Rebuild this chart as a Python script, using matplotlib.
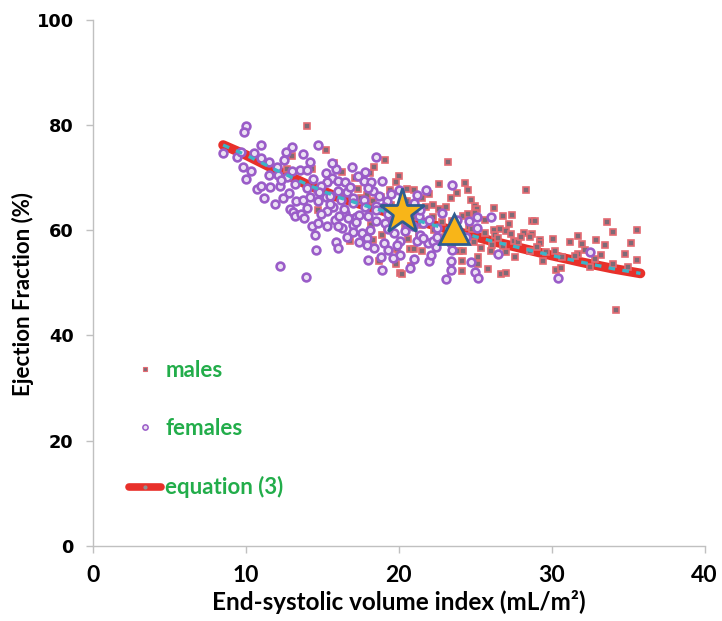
import matplotlib
matplotlib.use("Agg")
import matplotlib.pyplot as plt
from matplotlib.lines import Line2D

# ---------------- data ----------------
males_x = [14.0, 13.0, 14.3, 12.7, 14.7, 13.5, 15.2, 15.75, 16.25, 17.1, 19.1, 18.4, 20.0, 18.1,
           19.8, 17.3, 19.4, 20.5, 21.0, 18.8, 21.5, 17.9, 17.5, 16.8, 18.3, 18.7, 20.1, 19.8,
           20.0, 19.9, 20.7, 20.6, 20.8, 21.0, 18.9, 18.2, 17.0, 21.5, 23.2, 22.6, 24.3, 24.5,
           23.4, 24.7, 23.1, 25.0, 25.1, 22.6, 22.2, 24.2, 24.5, 26.8, 27.4, 28.3, 22.2, 25.0,
           28.7, 24.6, 26.2, 26.6, 27.0, 28.2, 28.7, 29.2, 27.5, 26.3, 26.1, 27.0, 23.9, 24.2,
           25.2, 27.6, 24.1, 25.2, 25.8, 24.1, 26.7, 27.0, 23.4, 28.9, 28.6, 29.2, 30.1, 31.7,
           32.0, 32.9, 33.6, 34.0, 35.6, 35.6, 33.2, 31.7, 29.4, 30.3, 30.6, 32.5, 34.2, 20.2,
           19.5, 20.5, 21.8, 22.8, 23.5, 24.8, 25.6, 26.5, 27.8, 29.0, 30.2, 31.5, 32.8, 34.0,
           35.0, 16.5, 17.5, 18.3,
           18.9, 19.6, 20.9, 21.5, 22.3, 23.0, 23.7, 24.9, 25.4, 26.0, 26.8, 27.3, 28.0, 28.6,
           29.6, 30.7, 31.2, 32.2, 33.5, 34.8, 35.2, 22.0, 23.8, 25.6, 26.2, 27.2, 19.2, 20.4,
           21.3, 22.4]
males_y = [79.8, 74.2, 71.6, 71.6, 63.9, 63.1, 75.2, 72.8, 71.0, 69.9, 73.3, 72.0, 70.3, 70.8,
           69.2, 67.9, 67.7, 67.8, 67.7, 66.3, 66.1, 66.7, 65.5, 58.0, 58.2, 54.1, 51.8, 53.6,
           55.3, 56.4, 56.4, 58.4, 53.2, 56.4, 59.1, 61.0, 62.3, 56.0, 73.0, 68.8, 69.0, 67.6,
           66.1, 65.7, 64.4, 64.6, 64.1, 64.1, 64.8, 62.7, 63.1, 62.7, 62.9, 67.7, 62.6, 63.2,
           61.7, 60.7, 60.1, 60.2, 59.9, 59.4, 59.3, 58.2, 57.9, 59.1, 57.2, 55.8, 56.0, 56.0,
           55.0, 55.0, 54.2, 53.6, 52.6, 52.2, 51.7, 51.8, 52.2, 61.8, 58.7, 57.6, 58.3, 59.0,
           57.4, 58.2, 61.5, 59.6, 60.1, 54.4, 55.3, 55.5, 54.1, 52.5, 52.8, 53.0, 44.9, 51.6,
           64.8, 65.5, 64.5, 61.5, 61.8, 60.3, 59.5, 58.5, 57.8, 56.8, 56.0, 55.2, 54.5, 53.5,
           53.0, 67.0, 66.2, 65.5,
           64.2, 62.4, 62.6, 61.0, 60.0, 58.8, 58.5, 57.8, 56.6, 56.0, 57.0, 59.3, 58.7, 56.1,
           55.9, 55.0, 57.8, 56.3, 57.2, 55.4, 57.5, 66.8, 67.1, 62.0, 64.2, 61.1, 60.6, 60.8,
           58.9, 57.5]

females_x = [9.98, 9.9, 10.96, 8.5, 13.0, 12.6, 13.7, 14.7, 9.4, 9.65, 12.5, 11.5, 9.8, 10.3,
             10.0, 13.5, 13.0, 14.0, 14.4, 12.7, 10.7, 10.96, 11.6, 12.2, 12.8, 11.9, 13.3, 13.7,
             14.2, 12.9, 13.1, 13.2, 13.6, 14.0, 14.7, 14.7, 12.1, 12.2, 13.9, 14.5, 14.6, 14.3,
             14.7, 18.5, 15.9, 15.2, 15.6, 16.0, 16.5, 15.3, 14.9, 17.7, 18.2, 18.9, 16.0, 16.6,
             17.0, 18.3, 20.0, 21.2, 21.8, 17.7, 15.7, 15.2, 16.5, 17.2, 18.5, 19.2, 21.3, 15.3,
             15.8, 16.25, 15.9, 17.0, 17.0, 17.6, 18.1, 17.9, 17.9, 18.5, 19.0, 19.3, 18.8, 18.9,
             18.0, 19.7, 20.1, 19.9, 20.1, 20.7, 21.2, 21.4, 21.9, 15.3, 16.1, 16.7, 17.4, 22.0,
             21.6, 19.1, 20.5, 23.5, 26.0, 25.1, 25.1, 23.4, 23.5, 22.1, 23.4, 24.7, 23.4, 23.1,
             25.0, 25.2, 26.5, 22.2, 32.5, 30.4, 11.5, 12.3, 13.2, 14.0, 14.8, 15.5, 16.2, 17.0,
             17.8, 18.5, 19.3, 19.0, 19.6, 20.8, 21.4, 22.0, 22.5,
             15.5, 16.4, 16.8, 17.3, 18.0, 18.7, 19.5, 16.0, 16.6, 17.4, 18.4, 19.6, 20.4, 20.9,
             21.6, 22.4, 15.6, 16.9, 17.8, 14.2, 11.0, 10.5, 12.0, 11.2, 12.4, 13.8, 14.9, 19.8,
             20.6, 21.0, 22.8, 23.8, 24.4, 24.6, 18.0, 17.2, 16.0, 19.3, 22.5, 21.0]
females_y = [79.8, 78.6, 76.2, 74.7, 75.8, 74.8, 74.5, 76.2, 73.9, 74.8, 73.3, 72.9, 72.0, 71.2,
             69.7, 71.5, 71.2, 71.5, 69.7, 70.1, 67.9, 68.5, 68.3, 68.5, 67.1, 65.0, 65.6, 65.7,
             66.3, 64.1, 63.4, 62.8, 63.1, 64.2, 67.7, 65.5, 70.5, 53.3, 51.2, 59.1, 56.2, 60.9,
             61.4, 73.9, 71.6, 70.9, 69.9, 69.3, 69.2, 69.2, 68.5, 69.3, 69.2, 69.3, 67.4, 67.2,
             66.1, 67.4, 67.7, 66.7, 67.7, 65.7, 64.4, 66.4, 63.3, 62.6, 64.6, 65.5, 62.7, 60.9,
             62.0, 60.4, 57.7, 61.0, 59.6, 59.5, 60.1, 58.5, 57.2, 61.7, 57.5, 56.3, 55.0, 52.5,
             54.4, 59.5, 57.9, 57.2, 55.3, 52.8, 57.9, 59.1, 57.5, 63.6, 62.7, 62.4, 62.9, 54.1,
             61.4, 61.4, 61.4, 68.6, 62.5, 62.5, 60.4, 57.5, 56.3, 55.3, 54.1, 53.9, 52.5, 50.7,
             52.0, 50.9, 55.5, 57.9, 55.8, 50.9, 70.5, 69.5, 68.8, 68.0, 67.2, 66.5, 65.8, 65.2,
             64.5, 63.8, 63.0, 64.5, 62.0, 64.5, 63.8, 62.0, 60.5,
             65.0, 64.0, 68.3, 70.3, 68.0, 66.5, 66.8, 60.8, 58.8, 57.8, 56.6, 54.8, 59.8, 60.8,
             58.6, 56.9, 72.8, 72.0, 71.1, 73.0, 73.8, 74.6, 72.0, 66.2, 66.2, 62.3, 63.0, 63.6,
             63.0, 65.2, 63.2, 62.0, 58.8, 61.8, 62.8, 61.6, 56.7, 60.2, 58.8, 54.6]

# equation (3) curve, read at several ESVI values
curve_x = [8.5, 10, 12, 14, 16, 18, 20, 22, 24, 26, 28, 30, 32, 34, 35.8]
curve_y = [76.2, 74.3, 71.4, 68.7, 66.3, 64.5, 62.8, 61.2, 59.6, 58.0, 56.6, 55.2, 53.9, 52.7, 51.8]

star_xy = (20.2, 63.4)
triangle_xy = (23.6, 60.2)

x_ticks = [0, 10, 20, 30, 40]
y_ticks = [0, 20, 40, 60, 80, 100]
legend_labels = ["males", "females", "equation (3)"]

# ---------------- styling ----------------
male_face, male_edge = "#7f6a76", "#e46a72"
fem_face, fem_edge = "#ece2f4", "#9a5cc8"
red = "#e8302a"
cyan = "#3cb4c8"
green = "#22ad4a"
gray = "#c0c0c0"
FONT = "Lato"
W = "bold"

fig = plt.figure(figsize=(7.22, 6.21), dpi=100)
ax = fig.add_axes([0.129, 0.121, 0.847, 0.847])

ax.plot(curve_x, curve_y, color=red, lw=7, solid_capstyle="round", zorder=1)
ax.plot(males_x, males_y, ls="none", marker="s", ms=5.0, mfc=male_face, mec=male_edge,
        mew=1.2, zorder=2)
ax.plot(females_x, females_y, ls="none", marker="o", ms=5.6, mfc=fem_face, mec=fem_edge,
        mew=1.9, zorder=3)
ax.plot(curve_x, curve_y, color=cyan, lw=2.4, dashes=(2.0, 2.2), zorder=4)
ax.plot([star_xy[0]], [star_xy[1]], marker="*", ms=34, mfc="#f8b518", mec="#2f5d8f",
        mew=2, zorder=6)
ax.plot([triangle_xy[0]], [triangle_xy[1]], marker="^", ms=22, mfc="#f8b518", mec="#2f5d8f",
        mew=2, zorder=6)

ax.set_xlim(0, 40)
ax.set_ylim(0, 100)
ax.set_xticks(x_ticks)
ax.set_yticks(y_ticks)

for s in ["top", "right"]:
    ax.spines[s].set_visible(False)
for s in ["left", "bottom"]:
    ax.spines[s].set_color(gray)
    ax.spines[s].set_linewidth(1.0)

ax.tick_params(axis="both", direction="out", length=5, width=1, color=gray)
ax.tick_params(axis="x", pad=9)
ax.tick_params(axis="y", pad=9)
for lab in ax.get_xticklabels():
    lab.set_fontfamily(FONT)
    lab.set_fontweight(W)
    lab.set_fontsize(16.5)
for lab in ax.get_yticklabels():
    lab.set_fontfamily("DejaVu Sans")
    lab.set_fontweight("bold")
    lab.set_fontsize(12.8)

ax.set_xlabel("End-systolic volume index (mL/m²)", fontfamily=FONT,
              fontweight=W, fontsize=17.5, labelpad=3)
ax.set_ylabel("Ejection Fraction (%)", fontfamily=FONT, fontweight=W, fontsize=16)
ax.yaxis.set_label_coords(-0.097, 0.478)

handles = [
    Line2D([], [], ls="none", marker="s", ms=3.4, mfc=male_face, mec=male_edge, mew=0.8),
    Line2D([], [], ls="none", marker="o", ms=3.8, mfc=fem_face, mec=fem_edge, mew=1.1),
    Line2D([], [], color=red, lw=5.5, solid_capstyle="round", marker="o", ms=2,
           mfc="#909090", mec="#909090"),
]
leg = ax.legend(handles, legend_labels, loc="upper left", bbox_to_anchor=(0.058, 0.354),
                frameon=False, borderpad=0, borderaxespad=0, handlelength=1.45,
                handletextpad=0.2, labelspacing=1.68, numpoints=1,
                prop={"family": FONT, "weight": W, "size": 16})
for t in leg.get_texts():
    t.set_color(green)

fig.savefig("out.png", dpi=100)
